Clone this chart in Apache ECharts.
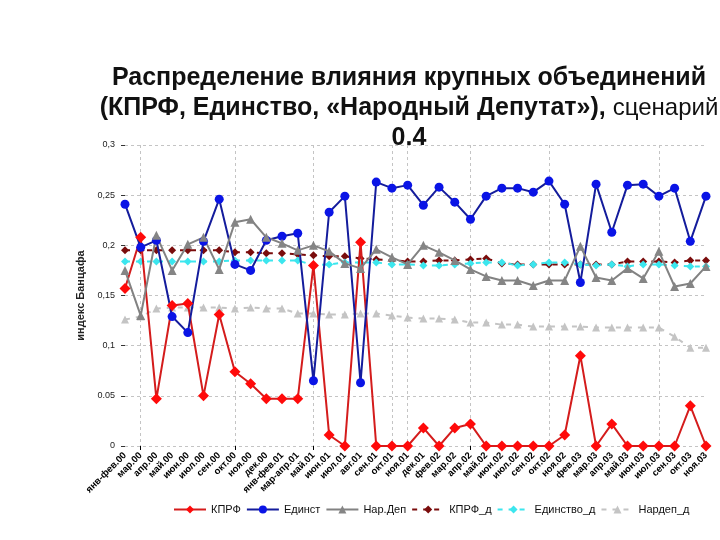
<!DOCTYPE html>
<html>
<head>
<meta charset="utf-8">
<script src="https://cdn.jsdelivr.net/npm/echarts@6/dist/echarts.min.js"></script>
<style>
  html, body { margin: 0; padding: 0; background: #fff; }
  #chart { width: 720px; height: 540px; }
</style>
</head>
<body>
<div id="chart"></div>
<script>
var periods = [
  'янв-фев.00', 'мар.00', 'апр.00', 'май.00', 'июн.00', 'июл.00', 'сен.00', 'окт.00', 'ноя.00', 'дек.00',
  'янв-фев.01', 'мар-апр.01', 'май.01', 'июн.01', 'июл.01', 'авг.01', 'сен.01', 'окт.01', 'ноя.01', 'дек.01',
  'фев.02', 'мар.02', 'апр.02', 'май.02', 'июн.02', 'июл.02', 'сен.02', 'окт.02', 'ноя.02',
  'фев.03', 'мар.03', 'апр.03', 'май.03', 'июн.03', 'июл.03', 'сен.03', 'окт.03', 'ноя.03'
];

var kprf = [0.157, 0.208, 0.047, 0.140, 0.142, 0.050, 0.131, 0.074, 0.062, 0.047,
  0.047, 0.047, 0.180, 0.011, 0, 0.203, 0, 0, 0, 0.018,
  0, 0.018, 0.022, 0, 0, 0, 0, 0, 0.011, 0.090,
  0, 0.022, 0, 0, 0, 0, 0.040, 0];

var edinst = [0.241, 0.198, 0.205, 0.129, 0.113, 0.204, 0.246, 0.181, 0.175, 0.205,
  0.209, 0.212, 0.065, 0.233, 0.249, 0.063, 0.263, 0.257, 0.260, 0.240,
  0.258, 0.243, 0.226, 0.249, 0.257, 0.257, 0.253, 0.264, 0.241, 0.163,
  0.261, 0.213, 0.260, 0.261, 0.249, 0.257, 0.204, 0.249];

var nardep = [0.175, 0.130, 0.210, 0.175, 0.201, 0.208, 0.176, 0.223, 0.226, 0.208,
  0.202, 0.195, 0.200, 0.194, 0.182, 0.177, 0.196, 0.188, 0.181, 0.200,
  0.193, 0.185, 0.176, 0.169, 0.165, 0.165, 0.160, 0.165, 0.165, 0.199,
  0.168, 0.165, 0.177, 0.167, 0.194, 0.159, 0.162, 0.179];

var kprfD = [0.195, 0.195, 0.195, 0.195, 0.195, 0.195, 0.195, 0.193, 0.193, 0.192,
  0.192, 0.191, 0.190, 0.189, 0.189, 0.187, 0.186, 0.185, 0.184, 0.184,
  0.185, 0.185, 0.186, 0.187, 0.182, 0.181, 0.181, 0.181, 0.181, 0.181,
  0.181, 0.181, 0.184, 0.184, 0.184, 0.183, 0.185, 0.185];

var edinD = [0.184, 0.184, 0.184, 0.184, 0.184, 0.184, 0.184, 0.185, 0.185, 0.185,
  0.185, 0.185, 0.180, 0.181, 0.183, 0.183, 0.183, 0.181, 0.181, 0.180,
  0.180, 0.181, 0.182, 0.183, 0.183, 0.180, 0.181, 0.183, 0.183, 0.181,
  0.180, 0.181, 0.179, 0.181, 0.181, 0.180, 0.179, 0.179];

var nardepD = [0.126, 0.129, 0.137, 0.138, 0.138, 0.138, 0.138, 0.137, 0.138, 0.137,
  0.137, 0.132, 0.132, 0.131, 0.131, 0.132, 0.132, 0.130, 0.128, 0.127,
  0.127, 0.126, 0.123, 0.123, 0.121, 0.121, 0.119, 0.119, 0.119, 0.119,
  0.118, 0.118, 0.118, 0.118, 0.118, 0.109, 0.098, 0.098];

var yLabels = { 0: '0', 0.05: '0.05', 0.1: '0,1', 0.15: '0,15', 0.2: '0,2', 0.25: '0,25', 0.3: '0,3' };
var vGrid = [1, 7, 12, 17, 18, 22, 27, 34];

function solid(name, data, lineColor, markColor, symbol, size) {
  return {
    name: name, type: 'line', data: data,
    symbol: symbol, symbolSize: size,
    itemStyle: { color: markColor },
    lineStyle: { color: lineColor, width: 2 },
    z: 3
  };
}
function dashed(name, data, color, symbol, size) {
  return {
    name: name, type: 'line', data: data,
    symbol: symbol, symbolSize: size,
    itemStyle: { color: color },
    lineStyle: { color: color, width: 2, type: [5, 6] },
    z: 2
  };
}

var chart = echarts.init(document.getElementById('chart'));
chart.setOption({
  animation: false,
  title: {
    text: '{b|Распределение влияния крупных объединений}\n{b|(КПРФ, Единство, «Народный Депутат»),} {n|сценарий}\n{b|0.4}',
    left: 404, top: 58, textAlign: 'center',
    textStyle: {
      fontFamily: 'Liberation Sans', fontSize: 25, color: '#111', lineHeight: 30,
      rich: {
        b: { fontFamily: 'Liberation Sans', fontSize: 25, fontWeight: 'bold', color: '#111', lineHeight: 30 },
        n: { fontFamily: 'Liberation Sans', fontSize: 24, fontWeight: 'normal', color: '#111', lineHeight: 30 }
      }
    }
  },
  legend: {
    bottom: 20, left: 168, width: 560, itemWidth: 32, itemHeight: 10, itemGap: 5,
    textStyle: { fontFamily: 'Liberation Sans', fontSize: 11, color: '#111' },
    data: ['КПРФ', 'Единст', 'Нар.Деп', 'КПРФ_д', 'Единство_д', 'Нардеп_д']
  },
  grid: { left: 125, right: 14, top: 145, bottom: 94 },
  xAxis: {
    type: 'category', data: periods, boundaryGap: false,
    axisLine: { show: false },
    axisTick: { show: true, length: 4, lineStyle: { color: '#000' },
      interval: function (i) { return vGrid.indexOf(i) >= 0; } },
    splitLine: { show: true, lineStyle: { color: '#c4c4c4', type: [3, 3] },
      interval: function (i) { return vGrid.indexOf(i) >= 0; } },
    axisLabel: { interval: 0, rotate: 45, fontSize: 9.5, fontWeight: 'bold', color: '#000',
      fontFamily: 'Liberation Sans', margin: 8 }
  },
  yAxis: {
    type: 'value', min: 0, max: 0.3, interval: 0.05,
    name: 'индекс Банцафа', nameLocation: 'middle', nameGap: 33,
    nameTextStyle: { fontFamily: 'Liberation Sans', fontSize: 11, fontWeight: 'bold', color: '#222' },
    axisLine: { show: false },
    axisTick: { show: true, length: 4, lineStyle: { color: '#333' } },
    splitLine: { lineStyle: { color: '#c4c4c4', type: [3, 3] } },
    axisLabel: { fontSize: 9, color: '#222', fontFamily: 'Liberation Sans', margin: 10,
      formatter: function (v) { return yLabels[Math.round(v * 100) / 100]; } }
  },
  series: [
    solid('КПРФ', kprf, '#d41c1c', '#ff0a0a', 'diamond', 11),
    solid('Единст', edinst, '#141c9c', '#0a14e6', 'circle', 9),
    solid('Нар.Деп', nardep, '#828282', '#858585', 'triangle', 9),
    dashed('КПРФ_д', kprfD, '#7a0c0c', 'diamond', 8),
    dashed('Единство_д', edinD, '#3ce6ee', 'diamond', 8),
    dashed('Нардеп_д', nardepD, '#c4c4c4', 'triangle', 8)
  ]
});
</script>
</body>
</html>
